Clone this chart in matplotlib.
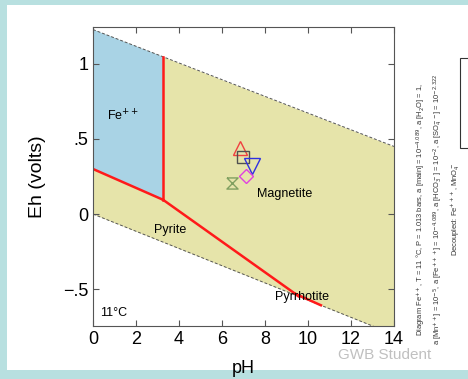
import matplotlib.pyplot as plt
from matplotlib.path import Path
import numpy as np

plt.rcParams['font.family'] = ['Liberation Sans', 'DejaVu Sans']

# water stability limits (Eh at pH 0 and pH 14)
ph_ends = [0, 14]
water_top = [1.228, 0.45]
water_bot = [0.0, -0.802]

# Fe++ field corners
fe_ph = [0, 3.26, 3.26, 0]
fe_eh = [1.228, 1.047, 0.095, 0.30]

# red boundary lines
b1_ph, b1_eh = [0, 3.26], [0.30, 0.095]
b2_ph, b2_eh = [3.26, 3.26], [0.095, 1.047]
b3_ph, b3_eh = [3.26, 9.4, 10.6], [0.095, -0.53, -0.607]
b4_ph, b4_eh = [9.4, 9.55], [-0.53, -0.547]

# measured samples
samp_ph = [6.84, 6.98, 7.4, 7.1, 6.47]
samp_eh = [0.44, 0.38, 0.32, 0.255, 0.21]
samp_col = ['#f04040', '#505050', '#3030e0', '#e040e0', '#80a060']

hourglass = Path([(-1, 1), (1, 1), (-1, -1), (1, -1), (-1, 1)])
samp_mk = ['^', 's', 'v', 'D', hourglass]
samp_sz = [10, 8, 11, 7, 8]

fig = plt.figure(figsize=(4.68, 3.79), dpi=100)
fig.patch.set_facecolor('#b8e0e0')
panel = plt.Rectangle((7 / 468, 9 / 379), 1, 1 - 14 / 379, transform=fig.transFigure,
                      facecolor='white', edgecolor='none', zorder=-10)
fig.patches.append(panel)

ax = fig.add_axes([93 / 468, 1 - 326 / 379, 301 / 468, 299 / 379])
ax.set_facecolor('white')

ph = np.array(ph_ends)
ax.fill_between(ph, water_bot, water_top, color='#e6e4aa', lw=0)
ax.fill(fe_ph, fe_eh, color='#a9d3e5', lw=0)
ax.plot(ph, water_top, color='#555555', lw=0.7, ls=(0, (3, 2)))
ax.plot(ph, water_bot, color='#555555', lw=0.7, ls=(0, (3, 2)))

for xs, ys in [(b1_ph, b1_eh), (b2_ph, b2_eh), (b3_ph, b3_eh), (b4_ph, b4_eh)]:
    ax.plot(xs, ys, color='#ff1a1a', lw=1.8)

for x, y, c, m, s in zip(samp_ph, samp_eh, samp_col, samp_mk, samp_sz):
    ax.plot(x, y, marker=m, ms=s, mfc='none', mec=c, mew=1.0, ls='none')

ax.text(1.4, 0.65, 'Fe$^{++}$', fontsize=9, ha='center', va='center')
ax.text(8.93, 0.135, 'Magnetite', fontsize=9, ha='center', va='center')
ax.text(3.6, -0.105, 'Pyrite', fontsize=9, ha='center', va='center')
ax.text(9.7, -0.55, 'Pyrrhotite', fontsize=9, ha='center', va='center')
ax.text(0.35, -0.66, '11°C', fontsize=9, ha='left', va='center')

ax.set_xlim(0, 14)
ax.set_ylim(-0.745, 1.245)
ax.set_xticks([0, 2, 4, 6, 8, 10, 12, 14])
ax.set_yticks([-0.5, 0, 0.5, 1])
ax.set_yticklabels(['\u2212.5', '0', '.5', '1'])
ax.tick_params(direction='in', top=True, right=True, labelsize=13, length=4,
               color='#555555')
for sp in ax.spines.values():
    sp.set_color('#555555')
    sp.set_linewidth(0.8)

ax.set_xlabel('pH', fontsize=13, labelpad=9)
ax.set_ylabel('Eh (volts)', fontsize=14, labelpad=12)

fig.text(385 / 468, 1 - 355 / 379, 'GWB Student', fontsize=11, color='#c0c0c0',
         ha='center', va='center')

notes = ('Diagram Fe$^{++}$, T = 11 \u00b0C, P = 1.013 bars, a [main] = 10$^{-4.089}$, a [H$_2$O] = 1,\n'
         'a [Mn$^{++}$] = 10$^{-5}$, a [Fe$^{+++}$] = 10$^{-4.089}$, a [HCO$_3^-$] = 10$^{-2}$, '
         'a [SO$_4^{--}$] = 10$^{-2.322}$\n'
         'Decoupled: Fe$^{+++}$, MnO$_4^-$')
fig.text(438 / 468, 1 - 345 / 379, notes, fontsize=5.4, rotation=90, ha='center',
         va='bottom', linespacing=1.5, color='#333333')

box = plt.Rectangle((460 / 468, 1 - 148 / 379), 0.1, 90 / 379, transform=fig.transFigure,
                    facecolor='white', edgecolor='#333333', lw=0.8)
fig.patches.append(box)

fig.savefig('out.png', dpi=100, facecolor=fig.get_facecolor())
